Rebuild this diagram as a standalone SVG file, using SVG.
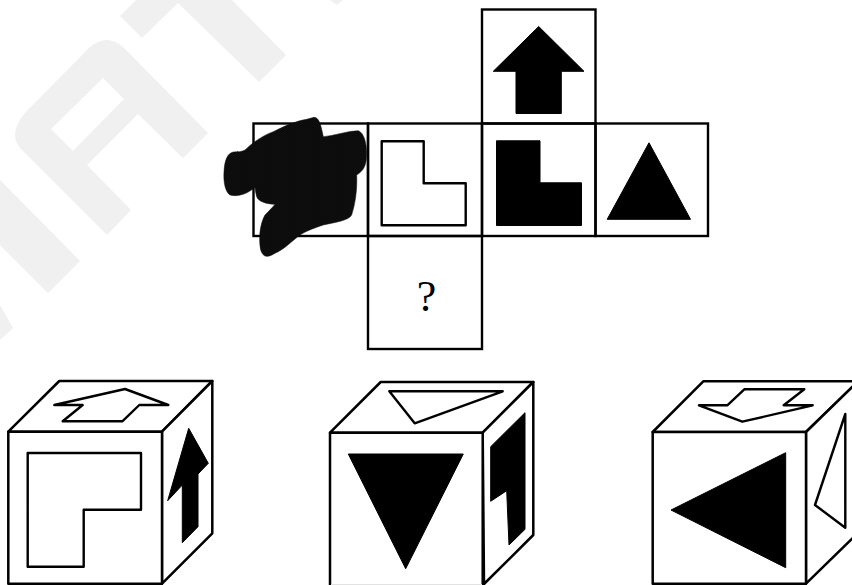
<svg xmlns="http://www.w3.org/2000/svg" width="852" height="585" viewBox="0 0 852 585">
<defs>
<pattern id="ink" width="9" height="6" patternUnits="userSpaceOnUse"><rect width="9" height="6" fill="#0a0a0a"/><rect x="1" y="2" width="4" height="1" fill="#1e1e1e"/><rect x="6" y="5" width="2" height="1" fill="#232323"/></pattern>
</defs>
<style>
.wm{fill:#f0f0f0;stroke:none}
.cell{fill:none;stroke:#000;stroke-width:2.400;stroke-linejoin:miter}
.out{fill:#fff;stroke:#000;stroke-width:2.400;stroke-linejoin:round}
.sol{fill:#000;stroke:#000;stroke-width:1;stroke-linejoin:round}
.face{fill:#fff;stroke:#000;stroke-width:2.500;stroke-linejoin:round}
</style>
<rect width="852" height="585" fill="#fff"/>
<g id="watermark">
<path class="wm" d="M208 133L183 158L138 114L87 165L131 210L107 235L20 148Q8 133 25 113L90 47Q107 33 123 47ZM103 78L51 129L73 151L124 99Z" fill-rule="evenodd"/>
<path class="wm" d="M120 16L136 0H232L286 55L259 82L178 3L142 38Z"/>
<path class="wm" d="M0 180L80 261L48 293L0 245Z"/>
<path class="wm" d="M0 305L13 328L0 340Z"/>
<path class="wm" d="M330 0L337 5L343 0Z"/>
</g>
<g id="connectors"></g>
<g id="cell-top"><rect class="cell" x="482" y="9.500" width="113.500" height="114"/><path class="sol" d="M538.700 26.500L584 71.300H561.300V113.500H516V71.300H493.300Z"/></g>
<g id="cell-left"><rect class="cell" x="253.500" y="123.500" width="114.500" height="112.500"/></g>
<g id="cell-outline-l"><rect class="cell" x="368" y="123.500" width="114" height="112.500"/><path class="out" d="M381.700 141.300H423.700V183.300H465.700V225.300H381.700Z"/></g>
<g id="cell-black-l"><rect class="cell" x="482" y="123.500" width="113.500" height="112.500"/><path class="sol" d="M496.500 140.800H540V182.800H581.500V225.500H496.500Z"/></g>
<g id="cell-triangle"><rect class="cell" x="595.500" y="123.500" width="112.500" height="112.500"/><path class="sol" d="M649 142.800L690.500 219.300H607.200Z"/></g>
<g id="cell-question"><rect class="cell" x="368" y="236" width="114" height="113"/><text x="426.500" y="311" font-family="'Liberation Serif',serif" font-size="44" text-anchor="middle" fill="#000">?</text></g>
<g id="scribble"><path d="M312 52C326 52 332 70 340 110C370 108 415 92 445 92C462 98 470 130 470 160C470 195 462 212 440 225C442 260 438 305 425 345C415 362 380 366 340 375C310 385 285 395 270 405C250 420 220 450 195 460C175 472 160 475 152 450C146 420 148 375 165 345C175 335 185 325 195 313C170 312 145 305 140 290C137 280 136 270 135 262C115 280 85 292 60 285C45 275 40 245 42 215C44 180 52 160 70 156C85 155 95 156 105 150C125 130 160 105 190 95C220 80 260 62 290 58Z" transform="translate(210 100) scale(.3333)" fill="url(#ink)" stroke="#0a0a0a" stroke-width="1.500"/></g>
<g id="cube-a">
<path class="face" d="M8.300 431.700L59.300 381H212.300L162 431.700Z"/>
<path class="face" d="M162 431.700L212.300 381V533.300L162 583.700Z"/>
<rect class="face" x="8.300" y="431.700" width="153.700" height="152"/>
<path class="out" d="M27.700 453H141V509.700H83.700V566.700H27.700Z"/>
<path class="out" d="M125 389L168.300 405H139.300L122.300 421.300H62.700L82.700 405H54.300Z"/>
<path class="sol" d="M188.700 428.300L208.300 463.300L198 474V526.700L182.300 542.700V485L167.700 500.700Z"/>
</g>
<g id="cube-b">
<path class="face" d="M330 432.700L380.700 382H533.300L482.700 432.700Z"/>
<path class="face" d="M482.700 432.700L533.300 382V535L484 584Z"/>
<path class="face" d="M330 586V432.700H482.700V586"/>
<path d="M331 584.500H482" stroke="#e2e2e2" stroke-width="1" fill="none"/>
<path class="out" d="M389.300 391.300H502.700L414.700 423.300Z"/>
<path class="sol" d="M348.300 454H463.300L405.700 568.700Z"/>
<path class="sol" d="M525 412.700V529.300L509 545L506.700 490.700L490.700 501.300V446.700Z"/>
</g>
<g id="cube-c">
<path class="face" d="M652.700 432L703.300 381.300H858L806 432Z"/>
<path class="face" d="M806 432L858 381.300V533L806 583.700Z"/>
<rect class="face" x="652.700" y="432" width="153.300" height="151.700"/>
<path class="out" d="M744.300 389.300H804.300L783.700 405.300H812.700L742.300 421.700L699 405.300H727.300Z"/>
<path class="sol" d="M785.700 452.700V567.700L671 510Z"/>
<path class="out" d="M845.300 414V527.700L815 505Z"/>
</g>
</svg>
